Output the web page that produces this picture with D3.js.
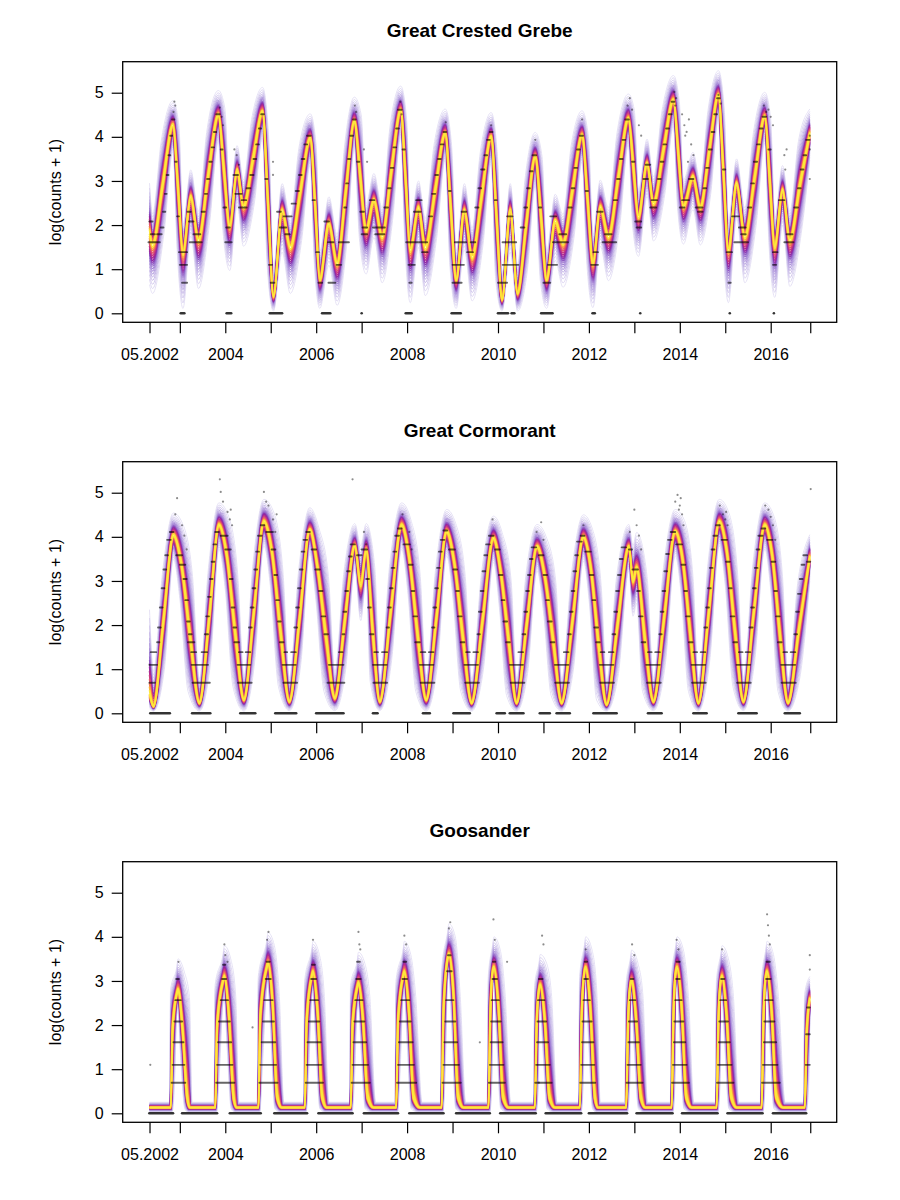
<!DOCTYPE html>
<html><head><meta charset="utf-8">
<script src="https://cdn.jsdelivr.net/npm/d3@7"></script>
<style>
body{margin:0;background:#fff}
text{font-family:"Liberation Sans",Arial,Helvetica,sans-serif}
</style>
</head><body>
<svg id="c" width="900" height="1200"></svg>
<script>
// ---------------- data ----------------
const titles = ["Great Crested Grebe", "Great Cormorant", "Goosander"];
const yLabel = "log(counts + 1)";
const yTicks = [0, 1, 2, 3, 4, 5];
const xTicks = [2002.333, 2003, 2004, 2005, 2006, 2007, 2008, 2009, 2010, 2011, 2012, 2013, 2014, 2015, 2016, 2016.87];
const xTickLabels = ["05.2002", "", "2004", "", "2006", "", "2008", "", "2010", "", "2012", "", "2014", "", "2016", ""];

// fan key points: [decimal year, median log(count+1), outer upper spread, outer lower spread, (optional) outer time spread]
const grebeFan = [
[2002.333,1.85,1.1,1.2],[2002.40,1.55,0.7,1.1],[2002.62,2.9,1.0,1.1,0.03],[2002.85,4.27,0.55,0.6],[2002.96,2.85,1.4,1.4,-0.02],
[2003.07,1.36,0.65,1.25],[2003.24,2.65,0.6,0.9],[2003.41,1.66,0.65,1.1],[2003.62,3.1,1.0,1.1,0.03],[2003.85,4.5,0.55,0.6],
[2003.97,3.25,1.4,1.4,-0.02],[2004.10,1.97,0.65,1.0],[2004.26,3.25,0.55,0.8],[2004.40,2.42,0.6,0.9],[2004.61,3.5,0.9,1.0,0.03],
[2004.82,4.57,0.55,0.6],[2004.94,2.5,1.4,1.4,-0.02],[2005.06,0.38,0.65,0.33],[2005.25,2.34,0.6,0.95],[2005.43,1.5,0.65,1.05],
[2005.65,2.75,1.0,1.1,0.03],[2005.87,3.97,0.55,0.6],[2005.98,2.4,1.4,1.3,-0.02],[2006.08,0.76,0.65,0.65],[2006.28,2.04,0.6,0.95],
[2006.46,1.13,0.65,0.95],[2006.65,2.75,1.0,1.1,0.03],[2006.84,4.35,0.55,0.6],[2006.97,3.1,1.4,1.4,-0.02],[2007.10,1.89,0.6,1.0],
[2007.27,2.57,0.6,0.85],[2007.45,1.74,0.65,1.05],[2007.65,3.2,1.0,1.1,0.03],[2007.86,4.6,0.55,0.6],[2007.97,3.0,1.4,1.4,-0.02],
[2008.07,1.44,0.6,1.2],[2008.25,2.4,0.6,0.9],[2008.40,1.5,0.65,1.1],[2008.62,2.8,1.0,1.1,0.03],[2008.84,4.08,0.55,0.6],
[2008.96,2.4,1.4,1.3,-0.02],[2009.08,0.76,0.65,0.65],[2009.26,2.34,0.6,0.9],[2009.43,1.28,0.65,1.0],[2009.64,2.65,1.0,1.1,0.03],
[2009.85,4.0,0.55,0.6],[2009.97,2.15,1.4,1.4,-0.02],[2010.09,0.3,0.6,0.25],[2010.27,2.34,0.6,0.95],[2010.43,0.45,0.65,0.4],
[2010.62,2.0,1.0,1.0,0.03],[2010.82,3.55,0.55,0.65],[2010.95,2.15,1.4,1.4,-0.02],[2011.07,0.76,0.65,0.65],[2011.26,2.1,0.6,0.9],
[2011.43,1.59,0.65,1.0],[2011.64,2.8,1.0,1.1,0.03],[2011.85,4.04,0.55,0.6],[2011.97,2.6,1.4,1.4,-0.02],[2012.09,1.13,0.65,1.0],
[2012.25,2.42,0.6,0.9],[2012.43,1.74,0.65,1.0],[2012.65,3.1,1.0,1.1,0.03],[2012.87,4.42,0.55,0.6],[2012.98,3.3,1.3,1.3,-0.02],
[2013.09,2.19,0.6,0.9],[2013.28,3.4,0.55,0.75],[2013.42,2.49,0.6,0.85],[2013.64,3.7,0.9,1.0,0.03],[2013.86,4.84,0.55,0.6],
[2013.97,3.6,1.2,1.2,-0.02],[2014.08,2.42,0.6,0.85],[2014.29,3.1,0.55,0.75],[2014.45,2.4,0.6,0.85],[2014.65,3.7,0.9,1.0,0.03],
[2014.85,4.95,0.55,0.55],[2014.96,3.2,1.4,1.4,-0.02],[2015.07,1.44,0.65,1.2],[2015.25,2.95,0.55,0.8],[2015.43,1.74,0.65,1.05],
[2015.65,3.1,1.0,1.1,0.03],[2015.87,4.46,0.55,0.6],[2015.98,3.0,1.4,1.4,-0.02],[2016.09,1.51,0.65,1.15],[2016.26,2.8,0.55,0.8],
[2016.42,1.66,0.65,1.05],[2016.64,2.9,1.0,1.1,0.03],[2016.86,4.08,0.55,0.6]
];
const cormorantFan = [
[2002.333,0.45,1.9,0.35],[2002.42,0.15,0.8,0.1],[2002.64,2.1,1.1,1.1,0.02],[2002.86,4.04,0.5,0.55],[2003.03,3.4,0.9,0.8,-0.03],
[2003.23,1.7,1.4,1.2,-0.05],[2003.43,0.23,0.55,0.18],[2003.65,2.2,1.1,1.1,0.02],[2003.86,4.27,0.5,0.55],[2004.03,3.6,0.9,0.8,-0.03],
[2004.22,1.8,1.4,1.2,-0.05],[2004.41,0.3,0.55,0.25],[2004.63,2.3,1.1,1.1,0.02],[2004.85,4.35,0.5,0.55],[2005.02,3.7,0.9,0.8,-0.03],
[2005.22,1.8,1.4,1.2,-0.05],[2005.41,0.26,0.55,0.2],[2005.64,2.2,1.1,1.1,0.02],[2005.86,4.16,0.5,0.55],[2006.03,3.3,0.9,0.8,-0.03],
[2006.22,1.7,1.4,1.2,-0.05],[2006.41,0.34,0.6,0.28],[2006.63,2.1,1.1,1.1,0.02],[2006.85,3.8,0.5,0.55],[2006.98,2.9,0.9,0.8],
[2007.10,3.7,0.6,0.65],[2007.24,1.9,1.4,1.2,-0.05],[2007.40,0.26,0.55,0.2],[2007.64,2.3,1.1,1.1,0.02],[2007.88,4.27,0.5,0.55],
[2008.05,3.5,0.9,0.8,-0.03],[2008.24,1.7,1.4,1.2,-0.05],[2008.42,0.3,0.55,0.25],[2008.65,2.2,1.1,1.1,0.02],[2008.87,4.12,0.5,0.55],
[2009.04,3.4,0.9,0.8,-0.03],[2009.23,1.7,1.4,1.2,-0.05],[2009.42,0.23,0.55,0.18],[2009.66,2.1,1.1,1.1,0.02],[2009.90,3.97,0.5,0.55],
[2010.06,3.2,0.9,0.8,-0.03],[2010.24,1.6,1.4,1.2,-0.05],[2010.41,0.23,0.55,0.18],[2010.63,2.0,1.1,1.1,0.02],[2010.86,3.78,0.5,0.55],
[2011.03,3.1,0.9,0.8,-0.03],[2011.22,1.6,1.4,1.2,-0.05],[2011.40,0.23,0.55,0.18],[2011.64,2.1,1.1,1.1,0.02],[2011.88,4.0,0.5,0.55],
[2012.04,3.3,0.9,0.8,-0.03],[2012.22,1.5,1.4,1.2,-0.05],[2012.39,0.19,0.55,0.14],[2012.63,2.0,1.1,1.1,0.02],[2012.88,3.78,0.5,0.55],
[2012.97,3.0,0.8,0.8],[2013.05,3.3,0.8,0.8],[2013.23,1.7,1.4,1.2,-0.05],[2013.42,0.26,0.55,0.2],[2013.66,2.2,1.1,1.1,0.02],
[2013.90,4.12,0.5,0.55],[2014.06,3.5,0.9,0.8,-0.03],[2014.24,1.7,1.4,1.2,-0.05],[2014.41,0.23,0.55,0.18],[2014.64,2.3,1.1,1.1,0.02],
[2014.87,4.35,0.5,0.55],[2015.03,3.7,0.9,0.8,-0.03],[2015.22,1.8,1.4,1.2,-0.05],[2015.40,0.26,0.55,0.2],[2015.63,2.3,1.1,1.1,0.02],
[2015.87,4.27,0.5,0.55],[2016.03,3.6,0.9,0.8,-0.03],[2016.21,1.7,1.4,1.2,-0.05],[2016.38,0.23,0.55,0.18],[2016.62,1.9,1.1,1.1,0.02],
[2016.86,3.55,0.5,0.55]
];
const goosanderFan = [
[2002.333,0.13,0.12,0.1],
[2002.80,0.13,0.12,0.1,0.03],[2002.84,1.9,0.9,1.2,0.045],[2002.93,2.7,0.6,0.5],[2002.96,2.8,0.7,0.5],[2003.06,1.9,1.3,0.7,-0.04],[2003.16,0.35,2.3,0.25,-0.05],[2003.22,0.13,0.12,0.1,-0.05],
[2003.78,0.13,0.12,0.1,0.03],[2003.82,2.0,0.9,1.2,0.045],[2003.95,3.0,0.6,0.5],[2003.98,3.1,0.7,0.5],[2004.08,2.2,1.3,0.7,-0.04],[2004.18,0.35,2.3,0.25,-0.05],[2004.25,0.13,0.12,0.1,-0.05],
[2004.73,0.13,0.12,0.1,0.03],[2004.77,2.2,0.9,1.2,0.045],[2004.91,3.3,0.6,0.5],[2004.94,3.4,0.7,0.5],[2005.04,2.5,1.3,0.7,-0.04],[2005.14,0.35,2.3,0.25,-0.05],[2005.24,0.13,0.12,0.1,-0.05],
[2005.75,0.13,0.12,0.1,0.03],[2005.79,2.1,0.9,1.2,0.045],[2005.90,3.1,0.6,0.5],[2005.93,3.2,0.7,0.5],[2006.03,2.3,1.3,0.7,-0.04],[2006.13,0.35,2.3,0.25,-0.05],[2006.23,0.13,0.12,0.1,-0.05],
[2006.76,0.13,0.12,0.1,0.03],[2006.80,2.0,0.9,1.2,0.045],[2006.90,2.85,0.6,0.5],[2006.93,2.95,0.7,0.5],[2007.03,2.1,1.3,0.7,-0.04],[2007.13,0.35,2.3,0.25,-0.05],[2007.26,0.13,0.12,0.1,-0.05],
[2007.76,0.13,0.12,0.1,0.03],[2007.80,2.1,0.9,1.2,0.045],[2007.91,3.1,0.6,0.5],[2007.94,3.2,0.7,0.5],[2008.04,2.3,1.3,0.7,-0.04],[2008.14,0.35,2.3,0.25,-0.05],[2008.28,0.13,0.12,0.1,-0.05],
[2008.76,0.13,0.12,0.1,0.03],[2008.80,2.3,0.9,1.2,0.045],[2008.89,3.5,0.6,0.5],[2008.92,3.6,0.7,0.5],[2009.02,2.7,1.3,0.7,-0.04],[2009.12,0.35,2.3,0.25,-0.05],[2009.24,0.13,0.12,0.1,-0.05],
[2009.79,0.13,0.12,0.1,0.03],[2009.83,2.2,0.9,1.2,0.045],[2009.88,3.2,0.6,0.5],[2009.91,3.3,0.7,0.5],[2010.01,2.4,1.3,0.7,-0.04],[2010.11,0.35,2.3,0.25,-0.05],[2010.23,0.13,0.12,0.1,-0.05],
[2010.81,0.13,0.12,0.1,0.03],[2010.85,2.0,0.9,1.2,0.045],[2010.90,2.8,0.6,0.5],[2010.93,2.9,0.7,0.5],[2011.03,2.1,1.3,0.7,-0.04],[2011.13,0.35,2.3,0.25,-0.05],[2011.25,0.13,0.12,0.1,-0.05],
[2011.80,0.13,0.12,0.1,0.03],[2011.84,2.2,0.9,1.2,0.045],[2011.90,3.2,0.6,0.5],[2011.93,3.3,0.7,0.5],[2012.03,2.4,1.3,0.7,-0.04],[2012.13,0.35,2.3,0.25,-0.05],[2012.20,0.13,0.12,0.1,-0.05],
[2012.82,0.13,0.12,0.1,0.03],[2012.86,2.0,0.9,1.2,0.045],[2012.91,2.9,0.6,0.5],[2012.94,3.0,0.7,0.5],[2013.04,2.1,1.3,0.7,-0.04],[2013.14,0.35,2.3,0.25,-0.05],[2013.24,0.13,0.12,0.1,-0.05],
[2013.82,0.13,0.12,0.1,0.03],[2013.86,2.2,0.9,1.2,0.045],[2013.91,3.2,0.6,0.5],[2013.94,3.3,0.7,0.5],[2014.04,2.4,1.3,0.7,-0.04],[2014.14,0.35,2.3,0.25,-0.05],[2014.26,0.13,0.12,0.1,-0.05],
[2014.81,0.13,0.12,0.1,0.03],[2014.85,2.1,0.9,1.2,0.045],[2014.90,3.0,0.6,0.5],[2014.93,3.1,0.7,0.5],[2015.03,2.2,1.3,0.7,-0.04],[2015.13,0.35,2.3,0.25,-0.05],[2015.25,0.13,0.12,0.1,-0.05],
[2015.80,0.13,0.12,0.1,0.03],[2015.84,2.1,0.9,1.2,0.045],[2015.89,3.1,0.6,0.5],[2015.92,3.2,0.7,0.5],[2016.02,2.3,1.3,0.7,-0.04],[2016.12,0.35,2.3,0.25,-0.05],[2016.27,0.13,0.12,0.1,-0.05],
[2016.75,0.13,0.12,0.1,0.03],[2016.79,1.8,0.9,1.2,0.045],[2016.86,2.6,0.5,0.55]
];

// observation runs: [from year, to year, count]
const grebeRuns = [
[2002.31,2002.56,4],[2002.33,2002.40,7],[2002.36,2002.45,5],[2002.50,2002.60,5],[2002.58,2002.64,6],[2002.63,2002.68,9],[2002.67,2002.71,14],[2002.71,2002.75,22],[2002.75,2002.79,35],[2002.79,2002.83,55],[2002.83,2002.88,80],
[2002.90,2002.93,30],[2002.94,2002.98,8],[2002.98,2003.16,3],[2003.00,2003.16,2],[2003.05,2003.16,1],[2003.02,2003.10,0],
[2003.17,2003.24,9],[2003.20,2003.30,7],[2003.22,2003.48,4],[2003.30,2003.45,5],
[2003.48,2003.55,9],[2003.55,2003.60,14],[2003.60,2003.65,20],[2003.65,2003.70,30],[2003.70,2003.75,42],[2003.75,2003.80,60],[2003.80,2003.88,90],
[2003.90,2003.94,40],[2003.96,2004.02,10],[2004.00,2004.14,4],[2004.03,2004.13,0],[2004.02,2004.10,6],
[2004.18,2004.28,22],[2004.22,2004.36,14],[2004.30,2004.47,10],[2004.36,2004.46,12],
[2004.47,2004.55,16],[2004.55,2004.62,22],[2004.62,2004.68,32],[2004.68,2004.74,45],[2004.74,2004.79,65],[2004.79,2004.85,90],
[2004.88,2004.93,20],[2004.96,2005.03,2],[2004.98,2005.25,0],[2005.00,2005.08,1],
[2005.14,2005.22,9],[2005.20,2005.34,6],[2005.28,2005.46,8],[2005.32,2005.42,5],
[2005.46,2005.55,11],[2005.55,2005.62,15],[2005.62,2005.68,22],[2005.68,2005.74,32],[2005.74,2005.80,45],[2005.80,2005.88,55],
[2005.92,2005.97,12],[2006.00,2006.06,3],[2006.05,2006.13,1],[2006.13,2006.31,0],[2006.27,2006.42,1],
[2006.18,2006.28,7],[2006.26,2006.38,4],[2006.45,2006.55,2],[2006.50,2006.72,4],
[2006.62,2006.66,10],[2006.66,2006.70,18],[2006.70,2006.75,32],[2006.75,2006.81,55],[2006.81,2006.87,80],
[2006.90,2006.95,30],[2006.97,2007.05,9],[2007.00,2007.12,5],[2007.02,2007.12,6],[2007.00,2007.00,0],
[2007.18,2007.28,12],[2007.25,2007.51,6],[2007.30,2007.50,5],
[2007.50,2007.58,10],[2007.58,2007.64,16],[2007.64,2007.70,26],[2007.70,2007.76,42],[2007.76,2007.82,65],[2007.80,2007.88,100],
[2007.90,2007.95,40],[2007.97,2008.10,0],[2008.03,2008.17,2],[2008.05,2008.10,1],[2007.98,2008.44,4],[2008.15,2008.30,9],[2008.20,2008.32,12],[2008.33,2008.45,3],
[2008.48,2008.55,8],[2008.55,2008.62,14],[2008.62,2008.68,22],[2008.68,2008.74,32],[2008.74,2008.80,45],[2008.80,2008.86,60],
[2008.92,2008.96,15],[2008.98,2009.18,0],[2009.00,2009.20,1],[2009.00,2009.25,2],[2009.05,2009.30,4],[2009.20,2009.30,9],[2009.32,2009.45,3],[2009.40,2009.50,4],
[2009.50,2009.57,10],[2009.57,2009.63,16],[2009.63,2009.70,25],[2009.70,2009.76,35],[2009.76,2009.82,50],[2009.82,2009.88,60],
[2009.93,2009.97,12],[2010.00,2010.22,0],[2010.00,2010.20,1],[2010.10,2010.35,2],[2010.10,2010.40,4],[2010.20,2010.32,8],[2010.30,2010.36,0],[2010.38,2010.45,2],
[2010.50,2010.58,6],[2010.58,2010.64,10],[2010.64,2010.70,16],[2010.70,2010.76,24],[2010.76,2010.84,35],
[2010.90,2010.95,10],[2010.95,2011.20,0],[2011.00,2011.15,1],[2011.10,2011.30,2],[2011.21,2011.54,4],[2011.15,2011.28,8],[2011.35,2011.50,5],
[2011.55,2011.62,10],[2011.62,2011.68,16],[2011.68,2011.74,26],[2011.74,2011.80,40],[2011.80,2011.87,55],
[2011.93,2011.98,15],[2012.05,2012.20,2],[2012.08,2012.13,0],[2012.10,2012.20,3],[2012.18,2012.30,9],[2012.30,2012.60,4],[2012.35,2012.50,5],
[2012.55,2012.62,12],[2012.62,2012.68,20],[2012.68,2012.74,32],[2012.74,2012.80,50],[2012.80,2012.88,80],
[2012.95,2013.00,30],[2013.02,2013.15,7],[2013.05,2013.15,6],[2013.13,2013.13,0],[2013.20,2013.30,20],[2013.25,2013.35,28],[2013.35,2013.48,10],[2013.38,2013.50,12],
[2013.52,2013.58,20],[2013.58,2013.64,30],[2013.64,2013.70,45],[2013.70,2013.76,65],[2013.76,2013.82,90],[2013.82,2013.88,120],
[2014.00,2014.10,10],[2014.05,2014.20,12],[2014.20,2014.30,20],[2014.35,2014.50,10],[2014.40,2014.50,9],
[2014.52,2014.58,16],[2014.58,2014.64,26],[2014.64,2014.70,40],[2014.70,2014.76,60],[2014.76,2014.82,90],[2014.82,2014.88,130],
[2014.95,2015.00,25],[2015.03,2015.15,3],[2015.07,2015.12,1],[2015.10,2015.10,0],[2015.15,2015.30,8],[2015.20,2015.50,4],[2015.30,2015.45,6],[2015.35,2015.45,5],
[2015.50,2015.57,10],[2015.57,2015.63,18],[2015.63,2015.70,30],[2015.70,2015.76,45],[2015.76,2015.82,65],[2015.82,2015.90,85],
[2015.95,2016.00,40],[2016.05,2016.15,3],[2016.07,2016.07,0],[2016.05,2016.12,2],[2016.18,2016.30,12],[2016.30,2016.50,4],[2016.35,2016.48,5],
[2016.52,2016.60,10],[2016.60,2016.66,16],[2016.66,2016.72,25],[2016.72,2016.78,35],[2016.78,2016.86,50]
];
const cormorantRuns = [
[2002.33,2002.45,1],[2002.33,2002.50,2],[2002.36,2002.48,3],[2002.35,2002.78,0],[2002.50,2002.55,4],[2002.52,2002.58,6],[2002.56,2002.62,10],[2002.60,2002.66,16],[2002.64,2002.70,25],[2002.68,2002.74,35],[2002.72,2002.80,50],[2002.78,2002.86,60],
[2002.92,2003.05,35],[2003.00,2003.12,28],[2003.08,2003.15,20],[2003.12,2003.18,12],[2003.16,2003.22,7],[2003.20,2003.26,5],[2003.18,2003.32,4],
[2003.27,2003.67,0],[2003.28,2003.66,1],[2003.26,2003.62,2],[2003.25,2003.36,3],[2003.48,2003.60,3],
[2003.55,2003.62,5],[2003.58,2003.64,8],[2003.62,2003.68,13],[2003.66,2003.72,20],[2003.70,2003.76,30],[2003.74,2003.80,45],[2003.78,2003.86,60],
[2003.90,2004.05,55],[2004.00,2004.12,40],[2004.10,2004.16,20],[2004.14,2004.20,10],[2004.18,2004.24,6],[2004.20,2004.30,4],
[2004.33,2004.66,0],[2004.28,2004.58,1],[2004.27,2004.55,2],[2004.30,2004.38,3],[2004.45,2004.55,3],
[2004.52,2004.58,6],[2004.56,2004.62,10],[2004.60,2004.66,16],[2004.64,2004.70,25],[2004.68,2004.74,38],[2004.72,2004.80,55],[2004.78,2004.86,70],
[2004.90,2005.05,60],[2005.02,2005.10,40],[2005.08,2005.14,22],[2005.12,2005.18,12],[2005.16,2005.22,7],[2005.20,2005.28,4],
[2005.10,2005.56,0],[2005.28,2005.58,1],[2005.26,2005.55,2],[2005.30,2005.36,3],[2005.45,2005.55,3],
[2005.52,2005.58,6],[2005.56,2005.62,10],[2005.60,2005.66,16],[2005.64,2005.70,25],[2005.68,2005.74,38],[2005.72,2005.80,50],[2005.78,2005.86,60],
[2005.90,2006.00,40],[2005.98,2006.08,25],[2006.06,2006.14,15],[2006.12,2006.20,8],[2006.18,2006.26,5],
[2006.00,2006.60,0],[2006.25,2006.62,1],[2006.28,2006.60,2],[2006.50,2006.58,3],
[2006.58,2006.62,5],[2006.60,2006.66,9],[2006.64,2006.70,15],[2006.68,2006.74,24],[2006.72,2006.78,34],[2006.76,2006.85,45],
[2006.90,2007.00,35],[2007.00,2007.12,40],[2007.10,2007.16,20],[2007.14,2007.20,10],[2007.18,2007.26,5],
[2007.25,2007.35,0],[2007.26,2007.56,1],[2007.25,2007.55,2],[2007.28,2007.36,3],[2007.45,2007.56,3],
[2007.55,2007.60,6],[2007.58,2007.64,10],[2007.62,2007.68,16],[2007.66,2007.72,26],[2007.70,2007.76,38],[2007.74,2007.82,55],[2007.80,2007.88,65],
[2007.92,2008.06,45],[2008.04,2008.12,28],[2008.10,2008.16,15],[2008.14,2008.22,8],[2008.18,2008.28,4],
[2008.30,2008.60,1],[2008.28,2008.58,2],[2008.30,2008.40,3],[2008.48,2008.58,3],[2008.35,2008.50,0],
[2008.55,2008.60,6],[2008.58,2008.64,10],[2008.62,2008.68,16],[2008.66,2008.72,26],[2008.70,2008.76,38],[2008.74,2008.82,50],[2008.80,2008.88,62],
[2008.92,2009.05,40],[2009.02,2009.10,25],[2009.08,2009.14,15],[2009.12,2009.20,8],[2009.18,2009.26,4],
[2009.02,2009.38,0],[2009.28,2009.58,1],[2009.26,2009.56,2],[2009.30,2009.38,3],[2009.46,2009.56,3],
[2009.55,2009.60,5],[2009.58,2009.64,9],[2009.62,2009.68,15],[2009.66,2009.72,24],[2009.70,2009.76,35],[2009.74,2009.82,45],[2009.80,2009.90,55],
[2009.94,2010.04,40],[2010.02,2010.10,22],[2010.08,2010.14,12],[2010.12,2010.20,7],[2010.18,2010.26,4],
[2009.97,2010.15,0],[2010.26,2010.56,0],[2010.28,2010.58,1],[2010.26,2010.55,2],[2010.45,2010.55,3],
[2010.54,2010.60,5],[2010.58,2010.64,9],[2010.62,2010.68,15],[2010.66,2010.72,22],[2010.70,2010.76,32],[2010.74,2010.84,42],
[2010.90,2011.00,35],[2011.00,2011.08,22],[2011.06,2011.12,12],[2011.10,2011.18,7],[2011.16,2011.24,4],
[2010.92,2011.14,0],[2011.29,2011.58,0],[2011.26,2011.56,1],[2011.25,2011.55,2],[2011.45,2011.55,3],
[2011.54,2011.60,5],[2011.58,2011.64,9],[2011.62,2011.68,15],[2011.66,2011.72,24],[2011.70,2011.76,35],[2011.74,2011.84,48],[2011.82,2011.90,55],
[2011.92,2012.04,38],[2012.02,2012.10,22],[2012.08,2012.14,12],[2012.12,2012.20,6],[2012.16,2012.24,4],
[2012.10,2012.61,0],[2012.25,2012.55,1],[2012.24,2012.54,2],[2012.26,2012.34,3],[2012.44,2012.54,3],
[2012.52,2012.58,5],[2012.56,2012.62,9],[2012.60,2012.66,15],[2012.64,2012.70,22],[2012.68,2012.74,32],[2012.72,2012.82,42],
[2012.88,2012.95,40],[2012.96,2013.08,25],[2013.06,2013.12,15],[2013.10,2013.18,8],[2013.16,2013.24,4],
[2013.30,2013.60,0],[2013.28,2013.58,1],[2013.26,2013.56,2],[2013.30,2013.38,3],[2013.46,2013.56,3],
[2013.55,2013.60,5],[2013.58,2013.64,9],[2013.62,2013.68,15],[2013.66,2013.72,24],[2013.70,2013.76,36],[2013.74,2013.82,50],[2013.80,2013.90,60],
[2013.92,2014.05,45],[2014.04,2014.12,28],[2014.10,2014.16,15],[2014.14,2014.22,8],[2014.20,2014.28,4],
[2014.30,2014.59,0],[2014.27,2014.57,1],[2014.26,2014.56,2],[2014.30,2014.38,3],[2014.46,2014.56,3],
[2014.54,2014.60,6],[2014.58,2014.64,10],[2014.62,2014.68,16],[2014.66,2014.72,26],[2014.70,2014.76,40],[2014.74,2014.82,55],[2014.80,2014.88,70],
[2014.92,2015.04,50],[2015.02,2015.10,30],[2015.08,2015.14,16],[2015.12,2015.20,8],[2015.18,2015.26,4],
[2015.29,2015.69,0],[2015.26,2015.56,1],[2015.25,2015.55,2],[2015.30,2015.38,3],[2015.45,2015.55,3],
[2015.53,2015.60,6],[2015.57,2015.63,10],[2015.61,2015.67,16],[2015.65,2015.71,26],[2015.69,2015.75,40],[2015.73,2015.82,55],[2015.80,2015.88,65],
[2015.92,2016.04,50],[2016.02,2016.10,30],[2016.08,2016.14,15],[2016.12,2016.20,8],[2016.16,2016.24,4],
[2016.31,2016.64,0],[2016.24,2016.55,1],[2016.23,2016.54,2],[2016.28,2016.36,3],[2016.44,2016.54,3],
[2016.52,2016.58,5],[2016.56,2016.62,9],[2016.60,2016.66,14],[2016.64,2016.70,20],[2016.68,2016.74,28],[2016.72,2016.80,35],[2016.80,2016.87,30]
];
const goosanderRuns = [
[2002.33,2002.85,0],[2003.05,2003.82,0],[2004.10,2004.78,0],[2005.08,2005.80,0],[2006.05,2006.80,0],[2007.05,2007.80,0],[2008.05,2008.80,0],[2009.08,2009.82,0],
[2010.05,2010.83,0],[2011.05,2011.83,0],[2012.00,2012.84,0],[2013.05,2013.84,0],[2014.05,2014.83,0],[2015.05,2015.82,0],[2016.05,2016.78,0],
[2002.82,2003.12,1],[2002.84,2003.10,2],[2002.86,2003.08,4],[2002.88,2003.05,7],[2002.90,2003.02,12],[2002.92,2002.98,20],
[2003.80,2004.20,1],[2003.82,2004.16,2],[2003.84,2004.13,4],[2003.86,2004.10,7],[2003.90,2004.06,12],[2003.93,2004.02,20],[2003.95,2004.00,28],
[2004.75,2005.15,1],[2004.77,2005.12,2],[2004.80,2005.10,4],[2004.83,2005.07,7],[2004.86,2005.04,12],[2004.89,2005.00,20],[2004.91,2004.98,30],
[2005.77,2006.15,1],[2005.79,2006.12,2],[2005.81,2006.10,4],[2005.84,2006.07,7],[2005.87,2006.04,12],[2005.89,2006.00,20],[2005.91,2005.97,28],
[2006.78,2007.18,1],[2006.80,2007.14,2],[2006.82,2007.10,4],[2006.84,2007.06,7],[2006.86,2007.02,12],[2006.88,2006.98,20],[2006.90,2006.96,30],
[2007.78,2008.20,1],[2007.80,2008.15,2],[2007.82,2008.12,4],[2007.84,2008.08,7],[2007.87,2008.05,12],[2007.90,2008.00,20],[2007.92,2007.98,30],
[2008.78,2009.18,1],[2008.80,2009.14,2],[2008.82,2009.10,4],[2008.84,2009.06,7],[2008.86,2009.02,12],[2008.88,2008.98,24],[2008.90,2008.96,35],
[2009.80,2010.15,1],[2009.82,2010.12,2],[2009.84,2010.10,4],[2009.85,2010.06,7],[2009.86,2010.02,12],[2009.88,2009.98,20],[2009.89,2009.94,30],
[2010.82,2011.18,1],[2010.84,2011.14,2],[2010.86,2011.10,4],[2010.87,2011.06,7],[2010.88,2011.02,12],[2010.90,2010.98,20],
[2011.81,2012.14,1],[2011.83,2012.12,2],[2011.85,2012.10,4],[2011.86,2012.06,7],[2011.88,2012.02,12],[2011.90,2011.98,20],[2011.91,2011.96,30],
[2012.83,2013.18,1],[2012.85,2013.14,2],[2012.87,2013.10,4],[2012.88,2013.06,7],[2012.90,2013.02,12],[2012.92,2012.98,20],
[2013.83,2014.20,1],[2013.85,2014.15,2],[2013.87,2014.12,4],[2013.88,2014.08,7],[2013.90,2014.04,12],[2013.92,2014.00,20],[2013.93,2013.98,30],
[2014.82,2015.18,1],[2014.84,2015.14,2],[2014.86,2015.10,4],[2014.87,2015.06,7],[2014.89,2015.02,12],[2014.91,2014.98,20],
[2015.81,2016.20,1],[2015.83,2016.15,2],[2015.85,2016.12,4],[2015.86,2016.08,7],[2015.88,2016.04,12],[2015.90,2016.00,20],[2015.91,2015.98,30],
[2016.77,2016.86,2],[2016.78,2016.86,5],[2016.80,2016.86,10]
];

// scattered single observations: [year, count]
const grebePts = [
[2002.88,120],[2002.86,95],[2002.90,110],[2003.88,105],[2003.92,85],[2003.95,70],[2004.20,40],[2004.25,35],[2004.30,28],[2005.05,30],[2005.05,22],
[2006.85,110],[2006.88,95],[2007.05,40],[2007.12,30],[2007.85,120],[2007.88,90],[2008.85,75],[2009.85,70],[2010.82,50],[2011.85,80],
[2012.85,110],[2012.90,130],[2012.95,100],[2013.10,70],[2013.15,55],[2013.88,150],[2013.92,130],[2013.90,110],[2014.05,90],[2014.10,70],
[2014.15,60],[2014.20,80],[2014.25,45],[2014.30,35],[2014.12,55],[2014.18,30],[2014.85,140],[2014.90,115],[2015.85,110],[2015.90,95],
[2015.95,100],[2016.00,85],[2016.05,70],[2016.30,35],[2016.32,25],[2016.35,40],[2016.86,40],[2016.86,20],[2016.86,55]
];
const cormorantPts = [
[2002.94,130],[2002.90,90],[2003.05,70],[2003.10,55],[2003.15,40],[2003.88,200],[2003.90,150],[2003.95,120],[2004.05,95],[2004.10,80],
[2004.15,70],[2004.12,100],[2004.85,150],[2004.90,120],[2004.95,110],[2005.05,80],[2005.10,60],[2005.13,90],[2006.80,200],[2007.05,60],
[2007.10,45],[2007.90,90],[2008.05,60],[2008.10,40],[2009.88,80],[2010.85,60],[2010.95,75],[2011.00,50],[2011.88,70],[2012.90,60],
[2013.05,70],[2013.10,55],[2013.00,100],[2013.15,40],[2013.90,120],[2013.95,140],[2014.00,110],[2014.05,90],[2014.02,130],[2014.08,70],
[2013.98,100],[2014.88,110],[2014.95,90],[2015.00,80],[2015.05,70],[2015.02,95],[2015.88,110],[2015.95,100],[2016.00,85],[2016.05,70],
[2016.10,50],[2016.88,160]
];
const goosanderPts = [
[2002.97,30],[2003.98,45],[2004.00,35],[2004.05,30],[2004.95,60],[2004.92,50],[2005.93,50],[2006.93,60],[2006.95,45],[2006.97,40],
[2007.94,55],[2007.98,45],[2008.92,65],[2008.95,75],[2009.90,80],[2009.93,50],[2010.20,30],[2010.97,55],[2011.00,45],[2011.93,40],
[2012.95,45],[2013.00,35],[2013.93,50],[2013.97,40],[2014.00,30],[2014.93,40],[2015.92,90],[2015.94,70],[2015.96,55],[2015.98,45],
[2016.86,35],[2016.86,25],[2002.35,2],[2004.60,6],[2009.60,4],[2010.90,1]
];

// fan line levels (outer -> inner) and their colours
const fanFracs = [1.0, 0.9, 0.81, 0.73, 0.66, 0.6, 0.54, 0.49, 0.44, 0.40, 0.36, 0.32, 0.27, 0.22, 0.17, 0.12, 0.08, 0.04];
const fanColors = ["#e6e2f5","#ddd6f1","#d3c9ed","#c9bbe8","#bfaee4","#b59fdf","#ab90da","#a17fd4","#976dcd","#8d55c2",
                   "#8a38b2","#9526a0","#b02a8f","#cc3b7e","#e4566a","#f37a4f","#fbb437","#fde83a"];
const fanWidths = [1.0, 1.0, 1.0, 1.0, 1.0, 1.1, 1.1, 1.1, 1.2, 1.3, 1.4, 1.5, 1.6, 1.6, 1.6, 1.7, 1.7, 1.7];

// ---------------- drawing ----------------
const svg = d3.select("#c");
const box = {l: 122.7, r: 836.7, t: 61.7, b: 322.3};
const x = d3.scaleLinear().domain([2001.743, 2017.452]).range([box.l, box.r]);
const y = d3.scaleLinear().domain([-0.204, 5.703]).range([box.b, box.t]);
const FONT = '"Liberation Sans", Arial, Helvetica, sans-serif';

const panels = [
  {fan: grebeFan, runs: grebeRuns, pts: grebePts},
  {fan: cormorantFan, runs: cormorantRuns, pts: cormorantPts},
  {fan: goosanderFan, runs: goosanderRuns, pts: goosanderPts}
];

const line = d3.line().x(d => x(d[0])).y(d => y(d[1])).curve(d3.curveMonotoneX);

panels.forEach((p, i) => {
  const g = svg.append("g").attr("transform", `translate(0,${i * 400})`);
  const cid = "clip" + i;
  g.append("clipPath").attr("id", cid).append("rect")
    .attr("x", box.l).attr("y", box.t).attr("width", box.r - box.l).attr("height", box.b - box.t);
  const plot = g.append("g").attr("clip-path", `url(#${cid})`);

  fanFracs.forEach((f, k) => {
    const upper = p.fan.map(r => [r[0] - f * (r[4] || 0), r[1] + f * r[2]]);
    const lower = p.fan.map(r => [r[0] + f * (r[4] || 0), Math.max(0.01, r[1] - f * r[3])]);
    [upper, lower].forEach(pts => {
      plot.append("path").attr("d", line(pts))
        .attr("fill", "none").attr("stroke", fanColors[k]).attr("stroke-width", fanWidths[k]);
    });
  });

  plot.append("g").selectAll("line").data(p.runs).join("line")
    .attr("x1", d => x(d[0])).attr("x2", d => x(d[1]))
    .attr("y1", d => y(Math.log(d[2] + 1))).attr("y2", d => y(Math.log(d[2] + 1)))
    .attr("stroke", "#000")
    .attr("stroke-opacity", d => d[2] === 0 ? 0.8 : 0.6)
    .attr("stroke-width", d => d[2] === 0 ? 2.6 : 1.9)
    .attr("stroke-linecap", "round");

  plot.append("g").selectAll("circle").data(p.pts).join("circle")
    .attr("cx", d => x(d[0])).attr("cy", d => y(Math.log(d[1] + 1))).attr("r", 1.1)
    .attr("fill", "#000").attr("fill-opacity", 0.45);

  g.append("rect").attr("x", box.l).attr("y", box.t).attr("width", box.r - box.l).attr("height", box.b - box.t)
    .attr("fill", "none").attr("stroke", "#000").attr("stroke-width", 1.3);

  const ax = g.append("g").attr("transform", `translate(0,${box.b})`)
    .call(d3.axisBottom(x).tickValues(xTicks).tickFormat((d, j) => xTickLabels[j]).tickSize(11).tickPadding(15));
  ax.select(".domain").remove();
  ax.attr("font-size", 16).attr("font-family", FONT);
  ax.selectAll("line").attr("stroke-width", 1.2);

  const ay = g.append("g").attr("transform", `translate(${box.l},0)`)
    .call(d3.axisLeft(y).tickValues(yTicks).tickFormat(d3.format("d")).tickSize(11).tickPadding(8));
  ay.select(".domain").remove();
  ay.attr("font-size", 16).attr("font-family", FONT);
  ay.selectAll("line").attr("stroke-width", 1.2);

  g.append("text").attr("x", (box.l + box.r) / 2).attr("y", 37)
    .attr("text-anchor", "middle").attr("font-weight", "bold").attr("font-size", 19)
    .attr("font-family", FONT).text(titles[i]);

  g.append("text").attr("transform", `translate(61,${(box.t + box.b) / 2}) rotate(-90)`)
    .attr("text-anchor", "middle").attr("font-size", 16).attr("font-family", FONT).text(yLabel);
});
</script>
</body></html>
